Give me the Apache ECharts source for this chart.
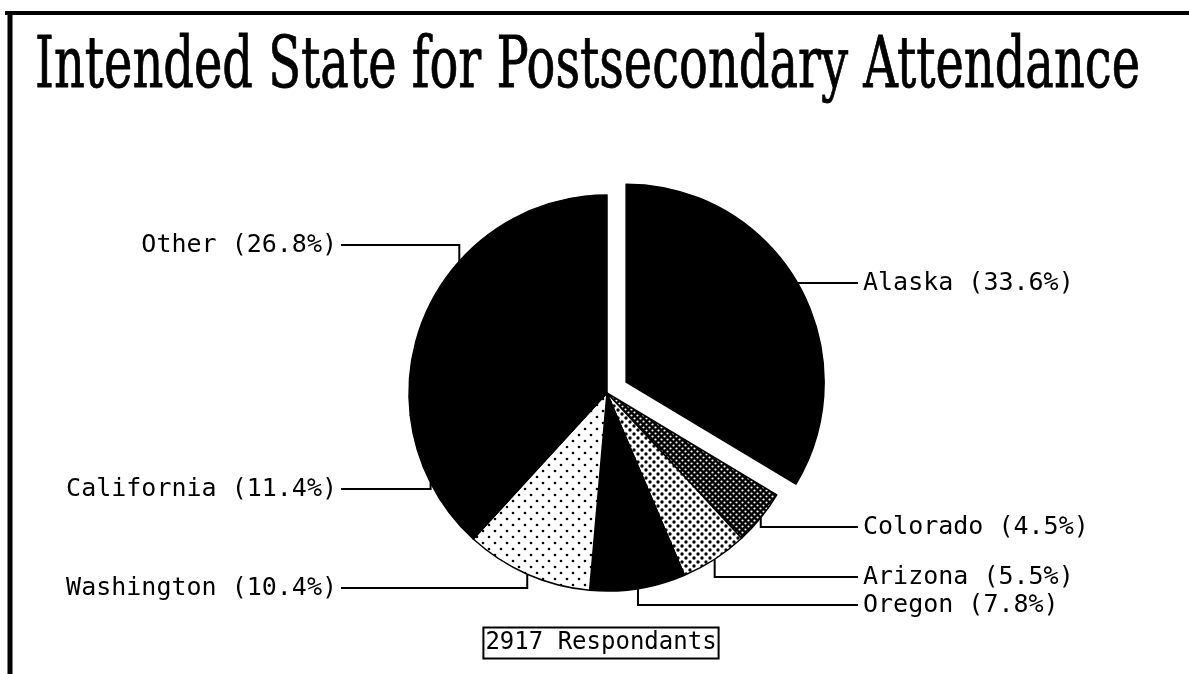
<!DOCTYPE html>
<html><head><meta charset="utf-8">
<script src="https://cdn.jsdelivr.net/npm/echarts@6/dist/echarts.min.js"></script>
<style>html,body{margin:0;padding:0;background:#fff}#chart{width:1189px;height:674px}</style>
</head><body><div id="chart"></div>
<script>
// ---- data ----
const titleText = 'Intended State for Postsecondary Attendance';
const footnote = '2917 Respondants';
const states = ['Alaska', 'Colorado', 'Arizona', 'Oregon', 'Washington', 'California', 'Other'];
const percents = [33.6, 4.5, 5.5, 7.8, 10.4, 11.4, 26.8];
const explodedState = 'Alaska';

// ---- layout / style ----
const CX = 607, CY = 393, R = 198, OFFSET = 22;
const labelYs = { Alaska: 283, Colorado: 527, Arizona: 577, Oregon: 605, Washington: 588, California: 489, Other: 245 };
const LEFT_TEXT_X = 337, LEFT_LINE_X = 341, RIGHT_TEXT_X = 863, RIGHT_LINE_X = 858;
const LABEL_FONT = '"DejaVu Sans Mono", "Liberation Mono", monospace';
const LABEL_SIZE = 25;
const TITLE_FONT = '71px "DejaVu Serif Condensed", "DejaVu Serif", serif';
const TITLE_X = 35, TITLE_W = 1105, TITLE_Y = 69;

function makePattern(bg, fg, size, dots, r) {
  const c = document.createElement('canvas');
  c.width = c.height = size;
  const ctx = c.getContext('2d');
  ctx.fillStyle = bg; ctx.fillRect(0, 0, size, size);
  ctx.fillStyle = fg;
  dots.forEach(function (d) { ctx.beginPath(); ctx.arc(d[0], d[1], r, 0, Math.PI * 2); ctx.fill(); });
  return { image: c, repeat: 'repeat' };
}
const fills = {
  Alaska: '#000',
  Colorado: makePattern('#000', '#fff', 6, [[1.5, 1.5], [4.5, 4.5]], 1.1),
  Arizona: makePattern('#fff', '#000', 8, [[2, 2], [6, 6]], 1.7),
  Oregon: '#000',
  Washington: makePattern('#fff', '#000', 12, [[3, 3], [9, 9]], 1.3),
  California: '#000',
  Other: '#000'
};

const total = percents.reduce(function (a, b) { return a + b; }, 0);
function midAngle(i) {
  let s = 0;
  for (let k = 0; k < i; k++) s += percents[k];
  return (s + percents[i] / 2) / total * 2 * Math.PI;
}
const explodedIndex = states.indexOf(explodedState);
const exA = midAngle(explodedIndex);
const EX_CX = CX + OFFSET * Math.sin(exA), EX_CY = CY - OFFSET * Math.cos(exA);

const titleMeasure = document.createElement('canvas').getContext('2d');
titleMeasure.font = TITLE_FONT;
const titleScale = TITLE_W / titleMeasure.measureText(titleText).width;

const hidden = { color: 'rgba(0,0,0,0)', borderWidth: 0 };

const chart = echarts.init(document.getElementById('chart'), null, { renderer: 'canvas' });
chart.setOption({
  backgroundColor: '#fff',
  animation: false,
  graphic: [
    { type: 'line', shape: { x1: 5, y1: 13, x2: 1189, y2: 13 }, style: { stroke: '#000', lineWidth: 4 } },
    { type: 'line', shape: { x1: 10, y1: 11, x2: 10, y2: 674 }, style: { stroke: '#000', lineWidth: 5 } },
    { type: 'text', x: TITLE_X, y: TITLE_Y, scaleX: titleScale,
      style: { text: titleText, font: TITLE_FONT, fill: '#000', stroke: '#000', lineWidth: 0.8, align: 'left', verticalAlign: 'middle' } },
    { type: 'text', x: 601, y: 643,
      style: { text: footnote, font: '24px ' + LABEL_FONT, fill: '#000', align: 'center', verticalAlign: 'middle',
               borderColor: '#000', borderWidth: 2, padding: [4, 2, 3, 2] } }
  ],
  series: [{
    // main pie (exploded slice drawn by the second series)
    type: 'pie',
    center: [CX, CY],
    radius: R,
    startAngle: 90,
    clockwise: true,
    avoidLabelOverlap: false,
    silent: true,
    emphasis: { disabled: true },
    itemStyle: { borderColor: '#000', borderWidth: 1.5 },
    label: { show: true, formatter: '{b} ({c}%)', color: '#000', fontFamily: LABEL_FONT, fontSize: LABEL_SIZE },
    labelLine: { show: true, smooth: false, lineStyle: { color: '#000', width: 2 } },
    labelLayout: function (p) {
      const i = p.dataIndex, name = states[i];
      const a = midAngle(i);
      const cx = name === explodedState ? EX_CX : CX;
      const cy = name === explodedState ? EX_CY : CY;
      const ax = cx + R * Math.sin(a), ay = cy - R * Math.cos(a);
      const ly = labelYs[name];
      const right = Math.sin(a) > 0;
      return {
        x: right ? RIGHT_TEXT_X : LEFT_TEXT_X, y: ly,
        align: right ? 'left' : 'right', verticalAlign: 'middle',
        labelLinePoints: [[ax, ay], [ax, ly], [right ? RIGHT_LINE_X : LEFT_LINE_X, ly]]
      };
    },
    data: states.map(function (s, i) {
      return { name: s, value: percents[i], itemStyle: s === explodedState ? hidden : { color: fills[s] } };
    })
  }, {
    // exploded slice
    type: 'pie',
    center: [EX_CX, EX_CY],
    radius: R,
    startAngle: 90,
    clockwise: true,
    silent: true,
    emphasis: { disabled: true },
    label: { show: false },
    labelLine: { show: false },
    data: states.map(function (s, i) {
      return { name: s, value: percents[i],
        itemStyle: s === explodedState ? { color: fills[s], borderColor: '#000', borderWidth: 1.5 } : hidden };
    })
  }]
});
</script>
</body></html>
